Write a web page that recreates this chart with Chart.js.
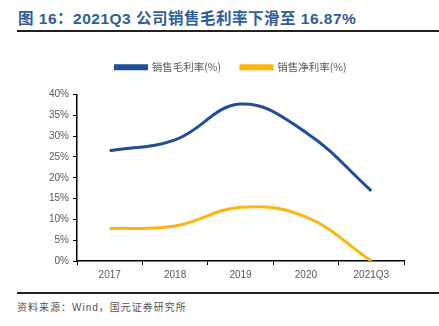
<!DOCTYPE html>
<html>
<head>
<meta charset="utf-8">
<script src="https://cdn.jsdelivr.net/npm/chart.js@4"></script>
<style>
  body { margin: 0; background: #fff; width: 439px; height: 326px; position: relative; overflow: hidden;
         font-family: "Liberation Sans", Arial, "Noto Sans CJK SC", sans-serif; }
  #titulo { position: absolute; left: 18px; top: 6px; font-size: 15.5px; font-weight: bold; color: #2E5C9E;
            white-space: nowrap; letter-spacing: 0.5px; }
  .linea { position: absolute; left: 17px; right: 0; height: 2px; background: #222; }
  #fuente { position: absolute; left: 17px; top: 299px; font-size: 10px; color: #555; letter-spacing: 1px; }
  #caja { position: absolute; left: 0; top: 42px; width: 439px; height: 243px; }
</style>
</head>
<body>
<div id="titulo">图 16：2021Q3 公司销售毛利率下滑至 16.87%</div>
<div class="linea" style="top:30px"></div>
<div id="caja"><canvas id="grafico"></canvas></div>
<div class="linea" style="top:292px"></div>
<div id="fuente">资料来源：Wind，国元证券研究所</div>
<script>
// ====== Datos ======
const categorias = ['2017', '2018', '2019', '2020', '2021Q3'];
const margenBruto = [26.5, 29.1, 37.7, 30.9, 16.87];
const margenNeto = [7.8, 8.4, 12.9, 10.6, 0.0];
const marcasY = [0, 5, 10, 15, 20, 25, 30, 35, 40];

const colorTexto = '#595959';

// Leyenda: más espacio debajo y centrada sobre el área del gráfico
const ajusteLeyenda = {
  id: 'ajusteLeyenda',
  beforeInit(chart) {
    const leyenda = chart.legend;
    const fitOriginal = leyenda.fit;
    leyenda.fit = function () {
      fitOriginal.call(this);
      this.height += 12;
    };
    const drawOriginal = leyenda.draw;
    leyenda.draw = function () {
      this.ctx.save();
      this.ctx.translate(29, 0);
      drawOriginal.call(this);
      this.ctx.restore();
    };
  }
};

// ====== Gráfico ======
const ctx = document.getElementById('grafico').getContext('2d');
new Chart(ctx, {
  type: 'line',
  data: {
    labels: categorias,
    datasets: [{
      label: '销售毛利率(%)',
      data: margenBruto,
      borderColor: '#1F4E9A',
      backgroundColor: '#1F4E9A',
      borderWidth: 3,
      tension: 0.4,
      pointRadius: 0
    }, {
      label: '销售净利率(%)',
      data: margenNeto,
      borderColor: '#FFB50F',
      backgroundColor: '#FFB50F',
      borderWidth: 3,
      tension: 0.4,
      pointRadius: 0
    }]
  },
  options: {
    responsive: true,
    maintainAspectRatio: false,
    animation: false,
    layout: { padding: { left: 0, right: 35, top: 0, bottom: 0 } },
    plugins: {
      legend: {
        labels: {
          boxWidth: 31,
          boxHeight: 3,
          color: colorTexto,
          padding: 20,
          font: { size: 10.5, family: '"Noto Sans CJK SC", sans-serif' }
        }
      },
      tooltip: { enabled: false }
    },
    scales: {
      x: {
        offset: true,
        grid: { offset: true, drawOnChartArea: false, drawTicks: true, tickLength: 4, color: '#000' },
        border: { color: '#000', width: 1.5 },
        ticks: { color: colorTexto, font: { size: 10, family: '"Liberation Sans", Arial' }, padding: 4 }
      },
      y: {
        min: 0,
        max: 40,
        afterBuildTicks: s => { s.ticks = marcasY.map(v => ({ value: v })); },
        afterFit: s => { s.width = 77; },
        grid: { drawOnChartArea: false, drawTicks: true, tickLength: 4, color: '#000' },
        border: { color: '#000', width: 1.5 },
        ticks: {
          color: colorTexto,
          font: { size: 10, family: '"Liberation Sans", Arial' },
          padding: 4,
          callback: v => v + '%'
        }
      }
    }
  },
  plugins: [ajusteLeyenda]
});
</script>
</body>
</html>
